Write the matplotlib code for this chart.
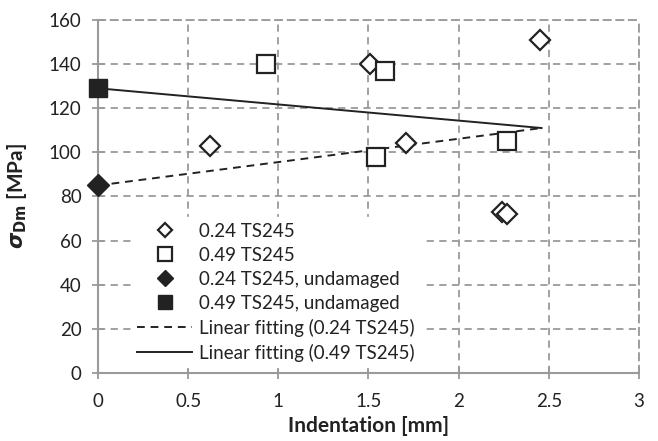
import matplotlib.pyplot as plt

plt.rcParams["font.family"] = ["Lato", "DejaVu Sans"]

# 0.24 TS245 (open diamonds)
d24_x = [0.62, 1.51, 1.71, 2.24, 2.27, 2.45]
d24_y = [103, 140, 104, 73, 72, 151]
# 0.49 TS245 (open squares)
d49_x = [0.93, 1.59, 1.54, 2.27]
d49_y = [140, 137, 98, 105]
# undamaged
u24_x, u24_y = [0], [85]
u49_x, u49_y = [0], [129]
# linear fits (end points)
fit_x = [0, 2.46]
fit24_y = [85, 111]
fit49_y = [129, 111]

x_ticks = [0, 0.5, 1, 1.5, 2, 2.5, 3]
x_labels = ["0", "0.5", "1", "1.5", "2", "2.5", "3"]
y_ticks = [0, 20, 40, 60, 80, 100, 120, 140, 160]

fig = plt.figure(figsize=(6.58, 4.41), dpi=100)
ax = fig.add_axes([0.149, 0.154, 0.822, 0.801])

grid_c = "#9a9a9a"
ink = "#222222"
ax.set_xlim(0, 3)
ax.set_ylim(0, 160)
ax.set_xticks(x_ticks)
ax.set_xticklabels(x_labels)
ax.set_yticks(y_ticks)
ax.grid(True, color=grid_c, linestyle=(0, (4, 3)), linewidth=1.3)
for s in ["top", "right"]:
    ax.spines[s].set_color(grid_c)
    ax.spines[s].set_linestyle((0, (4, 3)))
    ax.spines[s].set_linewidth(1.3)
for s in ["left", "bottom"]:
    ax.spines[s].set_color(grid_c)
    ax.spines[s].set_linewidth(1.5)
ax.tick_params(direction="inout", length=8, width=1.3, color=grid_c,
               labelsize=13.5, labelcolor=ink)
ax.tick_params(axis="y", pad=8)
ax.tick_params(axis="x", pad=10)

ax.plot(d24_x, d24_y, linestyle="none", marker="D", markersize=10,
        markerfacecolor="white", markeredgecolor=ink, markeredgewidth=1.6,
        label="0.24 TS245", zorder=4)
ax.plot(d49_x, d49_y, linestyle="none", marker="s", markersize=13,
        markerfacecolor="white", markeredgecolor=ink, markeredgewidth=1.6,
        label="0.49 TS245", zorder=4)
ax.plot(u24_x, u24_y, linestyle="none", marker="D", markersize=11,
        color=ink, label="0.24 TS245, undamaged", zorder=5, clip_on=False)
ax.plot(u49_x, u49_y, linestyle="none", marker="s", markersize=13,
        color=ink, label="0.49 TS245, undamaged", zorder=5, clip_on=False)
ax.plot(fit_x, fit24_y, color=ink, linestyle=(0, (4, 3)), linewidth=1.4,
        label="Linear fitting (0.24 TS245)", zorder=3)
ax.plot(fit_x, fit49_y, color=ink, linestyle="-", linewidth=1.4,
        label="Linear fitting (0.49 TS245)", zorder=3)

leg = ax.legend(loc="lower left", bbox_to_anchor=(0.045, -0.01), fontsize=13.5,
                frameon=True, fancybox=False, framealpha=1, edgecolor="white",
                handlelength=2.9, handletextpad=0.4, labelspacing=0.37,
                borderpad=0.3, markerscale=0.75)
leg.set_zorder(6)
for t in leg.get_texts():
    t.set_color(ink)

ax.set_xlabel("Indentation [mm]", fontsize=15, fontweight="bold", color=ink,
              labelpad=5)
ax.set_ylabel(r"$\boldsymbol{\sigma}_{\mathbf{Dm}}$ [MPa]", fontsize=15,
              fontweight="bold", color=ink, labelpad=14)

fig.savefig("out.png", dpi=100)
